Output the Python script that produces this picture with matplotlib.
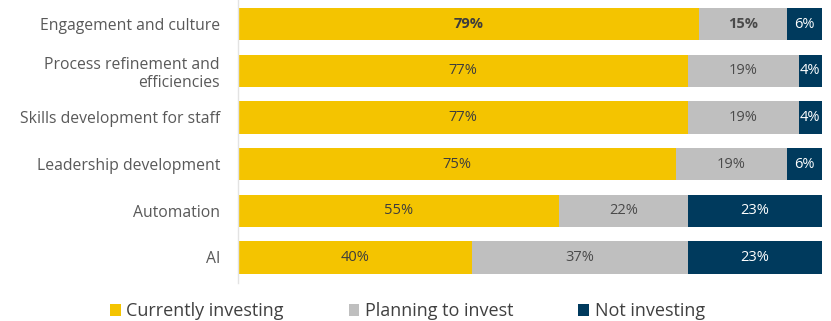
import numpy as np
import matplotlib.pyplot as plt
from matplotlib.patches import Patch

categories = ["Engagement and culture", "Process refinement and\nefficiencies",
              "Skills development for staff", "Leadership development",
              "Automation", "AI"]
currently = [79, 77, 77, 75, 55, 40]
planning = [15, 19, 19, 19, 22, 37]
not_investing = [6, 4, 4, 6, 23, 23]

series = ["Currently investing", "Planning to invest", "Not investing"]
colors = ["#F4C400", "#BFBFBF", "#003A5D"]
text_colors = ["#3d3d3d", "#4a4a4a", "white"]

plt.rcParams['font.family'] = ['Open Sans', 'DejaVu Sans']

fig = plt.figure(figsize=(8.31, 3.21), dpi=100)
ax = fig.add_axes([0.2864, 0.118, 0.7026, 0.882])

y = np.arange(len(categories))
left = np.zeros(len(categories))
for k, (vals, col, tcol, name) in enumerate(zip([currently, planning, not_investing], colors, text_colors, series)):
    vals = np.array(vals)
    ax.barh(y, vals, left=left, height=0.69, color=col, label=name)
    for i, v in enumerate(vals):
        bold = (i == 0 and k < 2)
        ax.text(left[i] + v / 2, y[i], f"{v}%", ha='center', va='center',
                color=tcol, fontsize=10.5, fontweight='bold' if bold else 'normal')
    left += vals

ax.set_xlim(0, 100)
ax.set_ylim(5.55, -0.515)
ax.set_yticks(y)
ax.set_yticklabels(categories, fontsize=11.3, color="#595959", linespacing=1.15)
ax.tick_params(axis='y', length=0, pad=13)
ax.set_xticks([])
for s in ['top', 'right', 'bottom']:
    ax.spines[s].set_visible(False)
ax.spines['left'].set_color('#e3e3e3')
ax.spines['left'].set_linewidth(1)

handles = [Patch(facecolor=c, label=n) for c, n in zip(colors, series)]
fig.legend(handles=handles, loc='center', bbox_to_anchor=(0.49, 0.03), ncol=3,
           frameon=False, fontsize=13, handlelength=0.6, handleheight=0.6,
           handletextpad=0.3, columnspacing=3.6, labelcolor="#404040")

fig.savefig("out.png", dpi=100)
